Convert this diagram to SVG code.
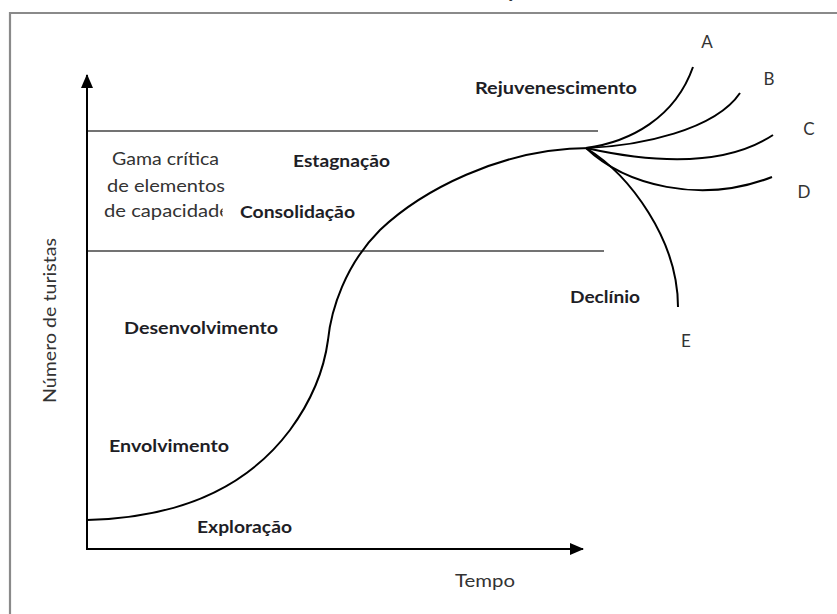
<svg xmlns="http://www.w3.org/2000/svg" width="837" height="614" viewBox="0 0 837 614">
<style>
.b{font-family:Lato,"Liberation Sans",sans-serif;font-weight:bold;font-size:17px;fill:#1e1e26}
.n{font-family:Lato,"Liberation Sans",sans-serif;font-size:17px;fill:#333}
.crv{fill:none;stroke:#000;stroke-width:2}
.ax{fill:none;stroke:#000;stroke-width:2}
.hl{fill:none;stroke:#444;stroke-width:1.6}
</style>
<defs>
<marker id="ar" markerWidth="14" markerHeight="12" refX="13" refY="6" orient="auto" markerUnits="userSpaceOnUse">
<path d="M0,0 L14,6 L0,12 Z" fill="#000"/>
</marker>
<clipPath id="cp"><rect x="0" y="195" width="222.6" height="40"/></clipPath>
</defs>
<rect width="837" height="614" fill="#fff"/>
<g id="frame">
<path d="M10,614 V13 H837" fill="none" stroke="#8a8a8a" stroke-width="2.2"/>
<text class="n" x="506" y="-2" fill="#000">ç</text>
</g>
<g id="connectors">
<line class="ax" x1="87" y1="549" x2="87" y2="75" marker-end="url(#ar)"/>
<line class="ax" x1="86" y1="549" x2="583" y2="549" marker-end="url(#ar)"/>
<line class="hl" x1="88" y1="131" x2="598" y2="131"/>
<line class="hl" x1="88" y1="251" x2="604" y2="251"/>
<path class="crv" d="M87,520 C175,518 245,490 290,430 C312,400 324,370 328,340 C331,310 345,265 380,230 C420,192 500,148 590,148"/>
<path class="crv" d="M586,148 C630,142 675,118 693,67"/>
<path class="crv" d="M586,148 C640,146 715,130 740,93"/>
<path class="crv" d="M586,148 C640,160 720,170 773,135"/>
<path class="crv" d="M586,148 C625,185 700,205 772,177"/>
<path class="crv" d="M586,148 C630,175 678,240 678,307"/>
</g>
<g id="n-rejuv"><text class="b" x="475" y="94" textLength="162" lengthAdjust="spacingAndGlyphs">Rejuvenescimento</text></g>
<g id="n-estag"><text class="b" x="293" y="167" textLength="97" lengthAdjust="spacingAndGlyphs">Estagnação</text></g>
<g id="n-consol"><text class="b" x="240" y="218" textLength="115" lengthAdjust="spacingAndGlyphs">Consolidação</text></g>
<g id="n-gama">
<text class="n" x="112" y="165" textLength="107" lengthAdjust="spacingAndGlyphs">Gama crítica</text>
<text class="n" x="107" y="192" textLength="118" lengthAdjust="spacingAndGlyphs">de elementos</text>
<g clip-path="url(#cp)"><text class="n" x="104" y="217" textLength="126" lengthAdjust="spacingAndGlyphs">de capacidade</text></g>
</g>
<g id="n-desenv"><text class="b" x="124" y="334" textLength="154" lengthAdjust="spacingAndGlyphs">Desenvolvimento</text></g>
<g id="n-envolv"><text class="b" x="109" y="452" textLength="120" lengthAdjust="spacingAndGlyphs">Envolvimento</text></g>
<g id="n-explor"><text class="b" x="197" y="533" textLength="95" lengthAdjust="spacingAndGlyphs">Exploração</text></g>
<g id="n-declinio"><text class="b" x="570" y="303" textLength="70" lengthAdjust="spacingAndGlyphs">Declínio</text></g>
<g id="n-tempo"><text class="n" x="455" y="587" textLength="60" lengthAdjust="spacingAndGlyphs">Tempo</text></g>
<g id="n-ylabel"><text class="n" transform="translate(56,320.5) rotate(-90)" text-anchor="middle" textLength="165" lengthAdjust="spacingAndGlyphs">Número de turistas</text></g>
<g id="n-A"><text class="n" x="707" y="48" text-anchor="middle">A</text></g>
<g id="n-B"><text class="n" x="769" y="85" text-anchor="middle">B</text></g>
<g id="n-C"><text class="n" x="809" y="135" text-anchor="middle">C</text></g>
<g id="n-D"><text class="n" x="804" y="198" text-anchor="middle">D</text></g>
<g id="n-E"><text class="n" x="686" y="347" text-anchor="middle">E</text></g>
</svg>
